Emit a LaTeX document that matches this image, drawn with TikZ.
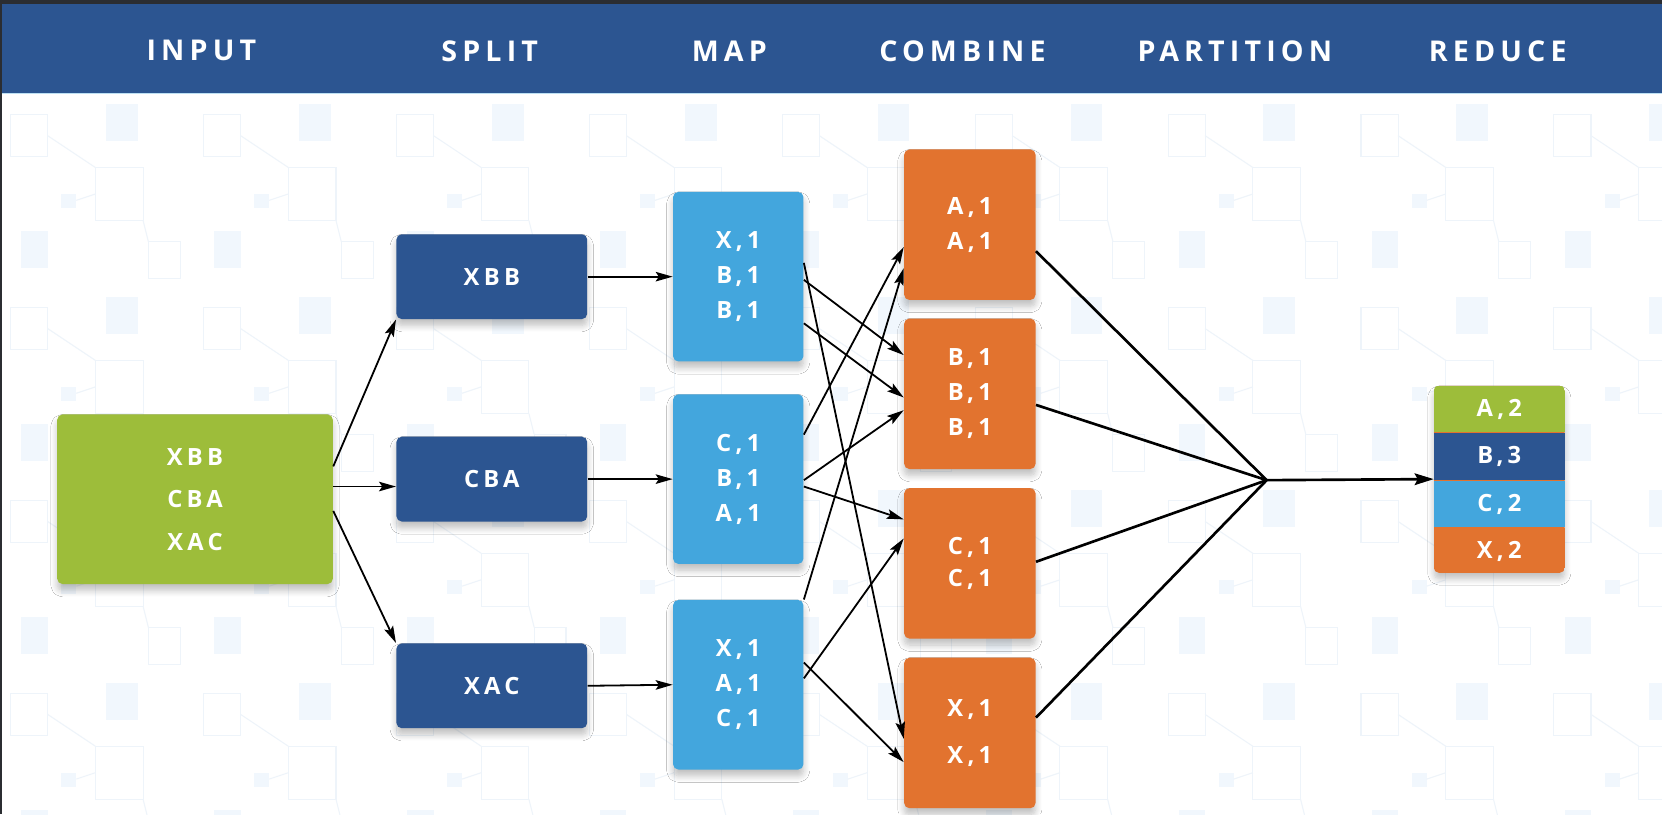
\documentclass[tikz,border=0pt]{standalone}
\usepackage{fontspec}
\setmainfont{Open Sans}
\newfontfamily\hdrfont{Open Sans}[LetterSpace=18]
\newfontfamily\lblfont{Open Sans}[LetterSpace=18]
\definecolor{chrome}{RGB}{43,45,49}
\definecolor{hdrblue}{RGB}{44,85,145}
\definecolor{boxgreen}{RGB}{157,189,58}
\definecolor{boxlight}{RGB}{67,166,221}
\definecolor{boxorange}{RGB}{226,115,47}
\definecolor{bgline}{RGB}{238,244,250}
\definecolor{bgfill}{RGB}{241,247,253}
\usepackage{tikz}
\usetikzlibrary{positioning,calc,arrows.meta,shadows.blur}

\begin{document}
\begin{tikzpicture}[x=0.5pt,y=-0.5pt,
    head/.style={text=white, font=\hdrfont\bfseries\fontsize{13.5}{16}\selectfont},
    box/.style={rounded corners=2.5pt, text=white, align=center, inner sep=0pt,
        font=\lblfont\bfseries\fontsize{11.2}{16.5}\selectfont,
        blur shadow={shadow xshift=0pt, shadow yshift=-3pt, shadow blur radius=3pt, shadow blur steps=8, shadow opacity=25}},
    inbox/.style={box, fill=boxgreen, minimum width=130pt, minimum height=80pt,
        font=\lblfont\bfseries\fontsize{11.2}{20}\selectfont},
    splitbox/.style={box, fill=hdrblue, minimum width=90pt, minimum height=40pt},
    mapbox/.style={box, fill=boxlight, minimum width=61.5pt, minimum height=80pt},
    combox/.style={box, fill=boxorange, minimum width=62pt, minimum height=71pt},
    strip/.style={text=white, inner sep=0pt, minimum width=61.5pt, minimum height=22pt,
        font=\lblfont\bfseries\fontsize{11.2}{13}\selectfont},
    arr/.style={-{Stealth[length=8pt,width=4.5pt,inset=1.5pt]}, line width=0.85pt},
    part/.style={line width=1.25pt}]
    \useasboundingbox (0,0) rectangle (1568,768);
    % background and faint pattern
    \fill[white] (0,0) rectangle (1568,768);
    \begin{scope}
        \clip (2,88) rectangle (1568,768);
        \foreach \i in {0,...,8}
        \foreach \j in {0,...,3} {
            \begin{scope}[shift={(\i*182,88+\j*182)}, bgline, line width=0.5pt]
                \draw (10,20) rectangle (45,60);
                \draw (90,70) rectangle (135,120);
                \draw (140,140) rectangle (170,175);
                \fill[bgfill] (100,10) rectangle (130,45);
                \fill[bgfill] (58,95) rectangle (72,108);
                \fill[bgfill] (20,130) rectangle (45,165);
                \draw (45,40) -- (90,70);
                \draw (135,120) -- (140,140);
                \draw (72,101) -- (90,95);
            \end{scope}
        }
    \end{scope}
    \fill[chrome] (0,0) rectangle (1568,4);
    \fill[chrome] (0,0) rectangle (2,768);
    % header band
    \fill[hdrblue] (2,4) rectangle (1568,88);
    \draw[boxlight!35, line width=0.6pt] (2,88) -- (1568,88);
    \node[head] (hInput) at (190,48) {INPUT};
    \node[head] (hSplit) at (462,48) {SPLIT};
    \node[head] (hMap) at (688,48) {MAP};
    \node[head] (hCombine) at (908,48) {COMBINE};
    \node[head] (hPartition) at (1165,48) {PARTITION};
    \node[head] (hReduce) at (1413,48) {REDUCE};

    % input and split
    \node[inbox] (in) at (184,471) {XBB\\CBA\\XAC};
    \node[splitbox] (s1) at (464,261) {XBB};
    \node[splitbox] (s2) at (464,452) {CBA};
    \node[splitbox] (s3) at (464,647) {XAC};

    % map
    \node[mapbox] (m1) at (696.5,261) {X,1\\B,1\\B,1};
    \node[mapbox] (m2) at (696.5,452) {C,1\\B,1\\A,1};
    \node[mapbox] (m3) at (696.5,646) {X,1\\A,1\\C,1};

    % combine
    \node[combox] (cA) at (915,212) {A,1\\A,1};
    \node[combox] (cB) at (915,371.5) {B,1\\B,1\\B,1};
    \node[combox] (cC) at (915,531.5) {C,1\\[-1.5pt]C,1};
    \node[combox] (cX) at (915,691.5) {X,1\\[5.5pt]X,1};

    % reduce
    \node[box, fill=boxorange, minimum width=61.5pt, minimum height=88pt] (red) at (1414.5,452) {};
    \begin{scope}
        \clip[rounded corners=2.5pt] (red.north west) rectangle (red.south east);
        \node[strip, fill=boxgreen, below=0pt of red.north] (rA) {A,2};
        \node[strip, fill=hdrblue, below=0pt of rA] (rB) {B,3};
        \node[strip, fill=boxlight, below=0pt of rB] (rC) {C,2};
        \node[strip, fill=boxorange, below=0pt of rC] (rX) {X,2};
    \end{scope}

    % input -> split -> map
    \draw[arr] ($(in.east)+(0,-31)$) -- (s1.south west);
    \draw[arr] ($(in.east)+(0,-12)$) -- ($(s2.west)+(0,7)$);
    \draw[arr] ($(in.east)+(0,11)$) -- (s3.north west);
    \draw[arr] (s1.east) -- (m1.west);
    \draw[arr] (s2.east) -- (m2.west);
    \draw[arr] (s3.east) -- (m3.west);

    % map -> combine
    \draw[arr] ($(m1.east)+(0,-13)$) -- ($(cX.west)+(0,5.5)$);
    \draw[arr] ($(m1.east)+(0,3)$) -- ($(cB.west)+(0,-36.5)$);
    \draw[arr] ($(m1.east)+(0,44)$) -- ($(cB.west)+(0,3.5)$);
    \draw[arr] ($(m2.east)+(0,-42)$) -- ($(cA.west)+(0,21)$);
    \draw[arr] ($(m2.east)+(0,1)$) -- ($(cB.west)+(0,15.5)$);
    \draw[arr] ($(m2.east)+(0,7)$) -- ($(cC.west)+(0,-41.5)$);
    \draw[arr] (m3.north east) -- ($(cA.west)+(0,41)$);
    \draw[arr] ($(m3.east)+(0,-21)$) -- ($(cX.west)+(0,27.5)$);
    \draw[arr] ($(m3.east)+(0,-6)$) -- ($(cC.west)+(0,-23.5)$);

    % partition -> reduce
    \coordinate (pt) at (1195,453);
    \draw[part] ($(cA.east)+(0,25)$) -- (pt);
    \draw[part] ($(cB.east)+(0,10.5)$) -- (pt);
    \draw[part] ($(cC.east)+(0,-1.5)$) -- (pt);
    \draw[part] ($(cX.east)+(0,-14.5)$) -- (pt);
    \draw[part, -{Stealth[length=9pt,width=5.5pt,inset=1.5pt]}] (pt) -- (red.west);
\end{tikzpicture}
\end{document}
